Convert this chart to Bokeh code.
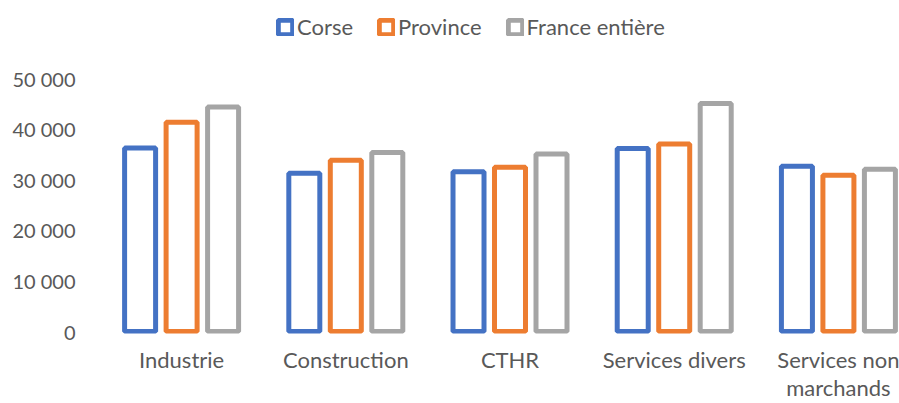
from bokeh.plotting import figure
from bokeh.models import Range1d, FixedTicker, ColumnDataSource, Legend, LegendItem
from bokeh.embed import file_html
from bokeh.resources import INLINE

categories = ["Industrie", "Construction", "CTHR", "Services divers", "Services non\nmarchands"]
series_names = ["Corse", "Province", "France entière"]
corse = [36300, 31300, 31600, 36200, 32700]
province = [41400, 33900, 32500, 37100, 30900]
france = [44400, 35400, 35100, 45100, 32100]
y_ticks = [0, 10000, 20000, 30000, 40000, 50000]
y_tick_labels = ["0", "10 000", "20 000", "30 000", "40 000", "50 000"]
colors = ["#4472C4", "#ED7D31", "#A5A5A5"]

FONT = "Lato"
TXT = "#595959"

p = figure(width=899, height=403, output_backend="svg", toolbar_location=None,
           x_range=Range1d(-0.5, 4.372), y_range=Range1d(-392, 65490),
           min_border_left=99, min_border_right=0, min_border_top=0, min_border_bottom=67)
p.outline_line_color = None
p.xgrid.visible = False
p.ygrid.visible = False
p.background_fill_color = "white"

idx = list(range(len(categories)))
offsets = [-0.2527, 0.0, 0.2527]
items = []
for name, vals, col, off in zip(series_names, [corse, province, france], colors, offsets):
    src = ColumnDataSource(dict(x=[i + off for i in idx], top=vals))
    r = p.vbar(x="x", top="top", bottom=0, width=0.1888, source=src,
               fill_color="white", line_color=col, line_width=5)
    items.append(LegendItem(label=name, renderers=[r]))

legend = Legend(items=items, orientation="horizontal", location=(177, 293),
                margin=0, padding=0, spacing=24, label_standoff=3,
                glyph_width=18, glyph_height=18,
                label_text_font=FONT, label_text_font_size="22px", label_text_color=TXT,
                border_line_color=None, background_fill_alpha=0)
p.add_layout(legend, "center")

p.xaxis.ticker = FixedTicker(ticks=idx)
p.xaxis.major_label_overrides = {i: c for i, c in zip(idx, categories)}
p.yaxis.ticker = FixedTicker(ticks=y_ticks)
p.yaxis.major_label_overrides = {t: l for t, l in zip(y_ticks, y_tick_labels)}

for ax in (p.xaxis[0], p.yaxis[0]):
    ax.axis_line_color = None
    ax.major_tick_line_color = None
    ax.minor_tick_line_color = None
    ax.major_tick_out = 0
    ax.major_tick_in = 0
    ax.major_label_text_font = FONT
    ax.major_label_text_color = TXT
p.yaxis.major_label_text_font_size = "20px"
p.xaxis.major_label_text_font_size = "22px"
p.xaxis.major_label_text_line_height = 1.05
p.yaxis.major_label_standoff = 24
p.xaxis.major_label_standoff = 12

open("out.html", "w").write(file_html(p, INLINE))
